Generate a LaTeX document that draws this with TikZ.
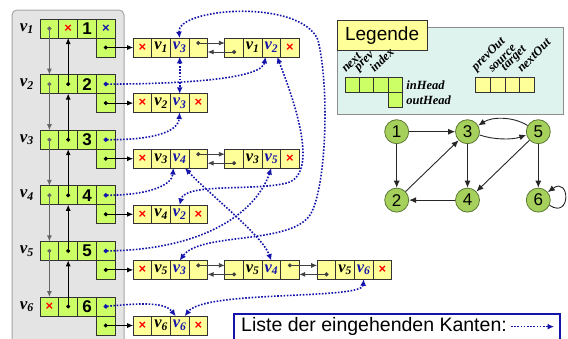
\documentclass[tikz,border=0pt]{standalone}
\usepackage{fontspec}
\setmainfont{Liberation Sans}
\newfontfamily\labfont{Liberation Serif}
\usetikzlibrary{arrows.meta, positioning, calc}

\definecolor{vgreen}{RGB}{204,255,102}
\definecolor{eyellow}{RGB}{255,255,153}
\definecolor{panelgray}{RGB}{228,228,228}
\definecolor{linkblue}{RGB}{20,20,170}
\definecolor{legcyan}{RGB}{222,243,238}
\definecolor{gnodefill}{RGB}{166,208,92}
\definecolor{gnodeline}{RGB}{90,120,50}

\begin{document}
\begin{tikzpicture}[
        x=1pt, y=-1pt,
        every node/.style={align=center},
        gcell/.style={
            rectangle, draw=black!80, line width=0.7pt, fill=vgreen,
            minimum width=18.8pt, minimum height=19pt,
            inner sep=0pt, outer sep=0pt,
            font=\bfseries\fontsize{17}{17}\selectfont
        },
        ecell/.style={
            rectangle, draw=black!80, line width=0.7pt, fill=eyellow,
            minimum width=18.6pt, minimum height=18.7pt,
            inner sep=0pt, outer sep=0pt,
            font=\labfont\bfseries\itshape\fontsize{16.5}{16.5}\selectfont
        },
        nil/.style={text=red, font=\bfseries\fontsize{13}{13}\selectfont},
        tgt/.style={text=linkblue},
        vlab/.style={font=\labfont\bfseries\itshape\fontsize{17}{17}\selectfont, inner sep=0pt},
        lgc/.style={
            rectangle, draw=black!80, line width=0.7pt, fill=vgreen,
            minimum width=14.3pt, minimum height=15pt, inner sep=0pt, outer sep=0pt
        },
        lyc/.style={lgc, fill=eyellow, minimum width=14.65pt},
        lgt/.style={font=\labfont\bfseries\itshape\fontsize{12.5}{12.5}\selectfont, inner sep=1pt},
        lgr/.style={lgt, rotate=45, anchor=south west, inner sep=0pt},
        gnode/.style={
            circle, draw=gnodeline, line width=0.8pt, fill=gnodefill,
            minimum size=24pt, inner sep=0pt, font=\fontsize{17}{17}\selectfont
        },
        garr/.style={-{Latex[length=7pt,width=6pt]}, line width=0.9pt, black!85},
        nxv/.style={{Circle[length=4pt]}-{Latex[length=6pt,width=5pt]}, shorten <=-2pt, line width=0.9pt, black!60},
        pv/.style={nxv, black},
        nx/.style={nxv, black!75},
        link/.style={line width=1.6pt, linkblue, dash pattern=on 1.6pt off 1.6pt},
        inl/.style={link, {Circle[length=4.2pt]}-{Latex[length=6.5pt,width=6pt]}, shorten <=-2.1pt},
        inl2/.style={link, {Latex[length=6.5pt,width=6pt]}-{Latex[length=6.5pt,width=6pt]}}
    ]
    \useasboundingbox (0,0) rectangle (568,338);
    \draw[draw=black!35, line width=1pt, fill=panelgray, rounded corners=5pt] (12,10) rectangle (124,350);

    \node[gcell] (v1n) at (49.4,28.5) {};
    \node[gcell, nil, right=0pt of v1n] (v1p) {×};
    \node[gcell, right=0pt of v1p] (v1i) {1};
    \node[gcell, nil, text=linkblue, right=0pt of v1i] (v1in) {×};
    \node[gcell, below=0pt of v1in] (v1out) {};
    \node[vlab, left=6pt of v1n] (l1) {v\textsubscript{1}};

    \node[gcell] (v2n) at (49.4,84.1) {};
    \node[gcell, right=0pt of v2n] (v2p) {};
    \node[gcell, right=0pt of v2p] (v2i) {2};
    \node[gcell, right=0pt of v2i] (v2in) {};
    \node[gcell, below=0pt of v2in] (v2out) {};
    \node[vlab, left=6pt of v2n] (l2) {v\textsubscript{2}};

    \node[gcell] (v3n) at (49.4,139.7) {};
    \node[gcell, right=0pt of v3n] (v3p) {};
    \node[gcell, right=0pt of v3p] (v3i) {3};
    \node[gcell, right=0pt of v3i] (v3in) {};
    \node[gcell, below=0pt of v3in] (v3out) {};
    \node[vlab, left=6pt of v3n] (l3) {v\textsubscript{3}};

    \node[gcell] (v4n) at (49.4,195.3) {};
    \node[gcell, right=0pt of v4n] (v4p) {};
    \node[gcell, right=0pt of v4p] (v4i) {4};
    \node[gcell, right=0pt of v4i] (v4in) {};
    \node[gcell, below=0pt of v4in] (v4out) {};
    \node[vlab, left=6pt of v4n] (l4) {v\textsubscript{4}};

    \node[gcell] (v5n) at (49.4,250.9) {};
    \node[gcell, right=0pt of v5n] (v5p) {};
    \node[gcell, right=0pt of v5p] (v5i) {5};
    \node[gcell, right=0pt of v5i] (v5in) {};
    \node[gcell, below=0pt of v5in] (v5out) {};
    \node[vlab, left=6pt of v5n] (l5) {v\textsubscript{5}};

    \node[gcell, nil] (v6n) at (49.4,306.5) {×};
    \node[gcell, right=0pt of v6n] (v6p) {};
    \node[gcell, right=0pt of v6p] (v6i) {6};
    \node[gcell, right=0pt of v6i] (v6in) {};
    \node[gcell, below=0pt of v6in] (v6out) {};
    \node[vlab, left=6pt of v6n] (l6) {v\textsubscript{6}};

    \node[ecell, nil, right=18pt of v1out] (e13a) {×};
    \node[ecell, right=0pt of e13a] (e13b) {v\textsubscript{1}};
    \node[ecell, tgt, right=0pt of e13b] (e13c) {v\textsubscript{3}};
    \node[ecell, right=0pt of e13c] (e13d) {};
    \node[ecell, right=17.2pt of e13d] (e12a) {};
    \node[ecell, right=0pt of e12a] (e12b) {v\textsubscript{1}};
    \node[ecell, tgt, right=0pt of e12b] (e12c) {v\textsubscript{2}};
    \node[ecell, nil, right=0pt of e12c] (e12d) {×};

    \node[ecell, nil, right=18pt of v2out] (e23a) {×};
    \node[ecell, right=0pt of e23a] (e23b) {v\textsubscript{2}};
    \node[ecell, tgt, right=0pt of e23b] (e23c) {v\textsubscript{3}};
    \node[ecell, nil, right=0pt of e23c] (e23d) {×};

    \node[ecell, nil, right=18pt of v3out] (e34a) {×};
    \node[ecell, right=0pt of e34a] (e34b) {v\textsubscript{3}};
    \node[ecell, tgt, right=0pt of e34b] (e34c) {v\textsubscript{4}};
    \node[ecell, right=0pt of e34c] (e34d) {};
    \node[ecell, right=17.2pt of e34d] (e35a) {};
    \node[ecell, right=0pt of e35a] (e35b) {v\textsubscript{3}};
    \node[ecell, tgt, right=0pt of e35b] (e35c) {v\textsubscript{5}};
    \node[ecell, nil, right=0pt of e35c] (e35d) {×};

    \node[ecell, nil, right=18pt of v4out] (e42a) {×};
    \node[ecell, right=0pt of e42a] (e42b) {v\textsubscript{4}};
    \node[ecell, tgt, right=0pt of e42b] (e42c) {v\textsubscript{2}};
    \node[ecell, nil, right=0pt of e42c] (e42d) {×};

    \node[ecell, nil, right=18pt of v5out] (e53a) {×};
    \node[ecell, right=0pt of e53a] (e53b) {v\textsubscript{5}};
    \node[ecell, tgt, right=0pt of e53b] (e53c) {v\textsubscript{3}};
    \node[ecell, right=0pt of e53c] (e53d) {};
    \node[ecell, right=17.2pt of e53d] (e54a) {};
    \node[ecell, right=0pt of e54a] (e54b) {v\textsubscript{5}};
    \node[ecell, tgt, right=0pt of e54b] (e54c) {v\textsubscript{4}};
    \node[ecell, right=0pt of e54c] (e54d) {};
    \node[ecell, right=18pt of e54d] (e56a) {};
    \node[ecell, right=0pt of e56a] (e56b) {v\textsubscript{5}};
    \node[ecell, tgt, right=0pt of e56b] (e56c) {v\textsubscript{6}};
    \node[ecell, nil, right=0pt of e56c] (e56d) {×};

    \node[ecell, nil, right=18pt of v6out] (e66a) {×};
    \node[ecell, right=0pt of e66a] (e66b) {v\textsubscript{6}};
    \node[ecell, tgt, right=0pt of e66b] (e66c) {v\textsubscript{6}};
    \node[ecell, nil, right=0pt of e66c] (e66d) {×};

    \draw[nxv] (v1n.center) -- (v2n.north);
    \draw[nxv] (v2n.center) -- (v3n.north);
    \draw[nxv] (v3n.center) -- (v4n.north);
    \draw[nxv] (v4n.center) -- (v5n.north);
    \draw[nxv] (v5n.center) -- (v6n.north);
    \draw[pv] (v2p.center) -- (v1p.south);
    \draw[pv] (v3p.center) -- (v2p.south);
    \draw[pv] (v4p.center) -- (v3p.south);
    \draw[pv] (v5p.center) -- (v4p.south);
    \draw[pv] (v6p.center) -- (v5p.south);

    \draw[pv] (v1out.center) -- (e13a.west);
    \draw[pv] (v2out.center) -- (e23a.west);
    \draw[pv] (v3out.center) -- (e34a.west);
    \draw[pv] (v4out.center) -- (e42a.west);
    \draw[pv] (v5out.center) -- (e53a.west);
    \draw[pv] (v6out.center) -- (e66a.west);

    \draw[nx] ([yshift=4.5pt]e13d.center) -- ([yshift=4.5pt]e12a.west);
    \draw[nx] ([yshift=-4.5pt]e12a.center) -- ([yshift=-4.5pt]e13d.east);
    \draw[nx] ([yshift=4.5pt]e34d.center) -- ([yshift=4.5pt]e35a.west);
    \draw[nx] ([yshift=-4.5pt]e35a.center) -- ([yshift=-4.5pt]e34d.east);
    \draw[nx] ([yshift=4.5pt]e53d.center) -- ([yshift=4.5pt]e54a.west);
    \draw[nx] ([yshift=-4.5pt]e54a.center) -- ([yshift=-4.5pt]e53d.east);
    \draw[nx] ([yshift=4.5pt]e54d.center) -- ([yshift=4.5pt]e56a.west);
    \draw[nx] ([yshift=-4.5pt]e56a.center) -- ([yshift=-4.5pt]e54d.east);

    \draw[inl] (v2in.center) .. controls (190,84) and (262,78) .. ([xshift=3.5pt]e12c.south west);
    \draw[inl2] ([xshift=-3.5pt]e12c.south east) .. controls (298,110) and (316,170) .. (290,182)
        .. controls (260,192) and (185,182) .. (e42c.north);
    \draw[inl] (v3in.center) .. controls (150,140) and (178,133) .. (e23c.south);
    \draw[inl2] (e13c.south) -- (e23c.north);
    \draw[inl2] (e13c.north) .. controls (176,8) and (300,-2) .. (318,40)
        .. controls (330,90) and (326,190) .. (310,215)
        .. controls (290,245) and (200,232) .. (e53c.north);
    \draw[inl] (v4in.center) .. controls (150,195) and (172,185) .. ([xshift=3pt]e34c.south west);
    \draw[inl2] ([xshift=-4pt]e34c.south east) .. controls (210,195) and (262,235) .. (e54c.north);
    \draw[inl] (v5in.center) .. controls (200,250) and (255,215) .. (e35c.south);
    \draw[inl] (v6in.center) .. controls (140,303) and (165,302) .. ([xshift=-4pt]e66c.north);
    \draw[inl2] (e56c.south) .. controls (362,300) and (205,290) .. ([xshift=5pt]e66c.north);

    \node[draw=black!45, line width=0.8pt, fill=legcyan, anchor=north west,
        minimum width=226pt, minimum height=87pt, inner sep=0pt] (legbox) at (336.7,27) {};
    \node[draw=black!80, line width=0.8pt, fill=eyellow, anchor=north west,
        minimum width=90pt, minimum height=30pt, inner sep=0pt,
        font=\fontsize{19}{19}\selectfont] (legtab) at (336.7,20) {Legende};
    \node[lgc] (lgn) at (352.15,84.8) {};
    \node[lgc, right=0pt of lgn] (lgp) {};
    \node[lgc, right=0pt of lgp] (lgi) {};
    \node[lgc, right=0pt of lgi] (lgin) {};
    \node[lgc, below=0pt of lgin] (lgout) {};
    \node[lgt, right=3pt of lgin] (tin) {inHead};
    \node[lgt, right=3pt of lgout] (tout) {outHead};
    \node[lgr] (tnext) at ([xshift=-6pt,yshift=4pt]lgn.north) {next};
    \node[lgr] (tprev) at ([xshift=-6pt,yshift=4pt]lgp.north) {prev};
    \node[lgr] (tindex) at ([xshift=-6pt,yshift=4pt]lgi.north) {index};
    \node[lyc] (lyp) at (483,84.8) {};
    \node[lyc, right=0pt of lyp] (lys) {};
    \node[lyc, right=0pt of lys] (lyt) {};
    \node[lyc, right=0pt of lyt] (lyn) {};
    \node[lgr] (tprevout) at ([xshift=-5pt,yshift=4pt]lyp.north) {prevOut};
    \node[lgr] (tsource) at ([xshift=-5pt,yshift=4pt]lys.north) {source};
    \node[lgr] (ttarget) at ([xshift=-5pt,yshift=4pt]lyt.north) {target};
    \node[lgr] (tnextout) at ([xshift=-5pt,yshift=4pt]lyn.north) {nextOut};

    \node[gnode] (gn1) at (396.7,131.7) {1};
    \node[gnode, right=46pt of gn1] (gn3) {3};
    \node[gnode, right=46pt of gn3] (gn5) {5};
    \node[gnode, below=43.6pt of gn1] (gn2) {2};
    \node[gnode, below=43.6pt of gn3] (gn4) {4};
    \node[gnode, below=43.6pt of gn5] (gn6) {6};
    \draw[garr] (gn1) -- (gn3);
    \draw[garr] (gn1) -- (gn2);
    \draw[garr] (gn2) -- (gn3);
    \draw[garr] (gn3) -- (gn4);
    \draw[garr] (gn5) -- (gn4);
    \draw[garr] (gn4) -- (gn2);
    \draw[garr] (gn5) -- (gn6);
    \draw[garr] (gn3.-15) .. controls +(14,5) and +(-14,5) .. (gn5.195);
    \draw[garr] (gn5.150) .. controls +(-14,-9) and +(14,-9) .. (gn3.30);
    \draw[garr] (gn6.-25) .. controls +(22,14) and +(22,-16) .. (gn6.40);

    \node[draw=linkblue, line width=1.2pt, fill=white, anchor=north west,
        minimum width=326pt, minimum height=34pt, inner sep=0pt] (keybox) at (233.3,313.3) {};
    \node[anchor=base west, inner sep=0pt, font=\fontsize{19.5}{19.5}\selectfont] (keytext) at (241,331.7)
        {Liste der eingehenden Kanten:};
    \coordinate (ka) at ([xshift=4pt]keytext.east);
    \coordinate (kb) at ([xshift=47pt]keytext.east);
    \draw[link, -{Latex[length=6.5pt,width=6pt]}] (ka) -- (kb);
\end{tikzpicture}
\end{document}
